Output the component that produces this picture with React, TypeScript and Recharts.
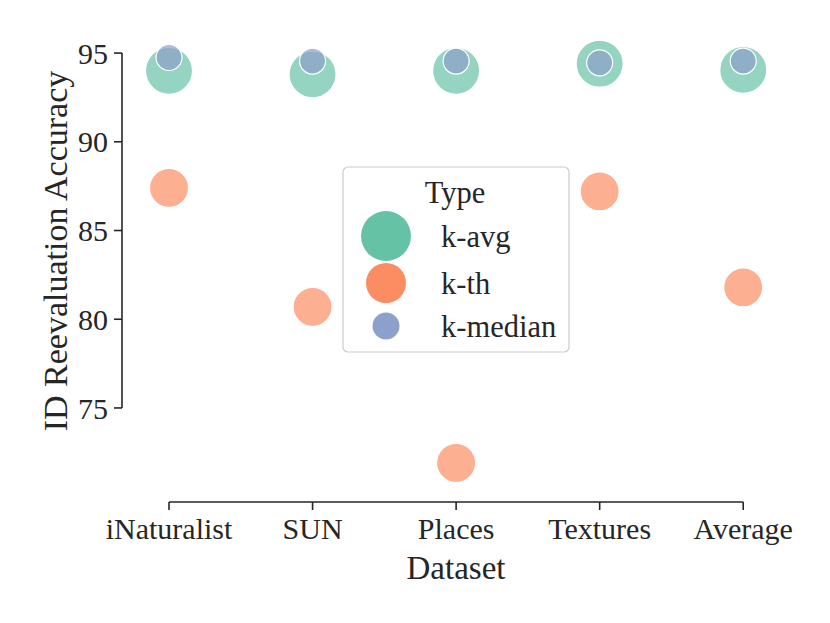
import {
  ScatterChart,
  Scatter,
  XAxis,
  YAxis,
  ReferenceLine,
} from "recharts";

const datasets = ["iNaturalist", "SUN", "Places", "Textures", "Average"];
const kAvg = [94.0, 93.8, 94.0, 94.4, 94.05];
const kTh = [87.4, 80.7, 71.9, 87.2, 81.8];
const kMedian = [94.75, 94.55, 94.55, 94.45, 94.55];
const yTicks = [75, 80, 85, 90, 95];

const types = [
  { name: "k-avg", color: "#66c2a5", r: 23.5, legendR: 25 },
  { name: "k-th", color: "#fc8d62", r: 19.5, legendR: 20 },
  { name: "k-median", color: "#8da0cb", r: 13, legendR: 13.5 },
];

const FONT = "'Liberation Serif', 'DejaVu Serif', serif";
const INK = "#262626";
const X_MIN = -0.3275;
const Y_MIN = 69.7;

const toPoints = (vals: number[]) => vals.map((v, i) => ({ x: i, y: v }));
const seriesValues = [kAvg, kTh, kMedian];

const dot = (r: number, color: string) => (p: any) => (
  <circle
    cx={p.cx}
    cy={p.cy}
    r={r}
    fill={color}
    fillOpacity={0.7}
    stroke="#ffffff"
    strokeWidth={1.2}
  />
);

function LegendBox() {
  const rows = [236, 283, 326];
  return (
    <svg
      width={230}
      height={190}
      style={{ position: "absolute", left: 341, top: 165 }}
    >
      <rect
        x={2}
        y={2}
        width={226}
        height={185}
        rx={5}
        fill="#ffffff"
        fillOpacity={0.8}
        stroke="#cccccc"
        strokeWidth={1.2}
      />
      <text x={114} y={38} textAnchor="middle" fontFamily={FONT} fontSize={30.5} fill={INK}>
        Type
      </text>
      {types.map((t, i) => (
        <g key={t.name}>
          <circle cx={45} cy={rows[i] - 165} r={t.legendR} fill={t.color} />
          <text
            x={100}
            y={rows[i] - 165}
            dy="0.35em"
            fontFamily={FONT}
            fontSize={30.5}
            fill={INK}
          >
            {t.name}
          </text>
        </g>
      ))}
    </svg>
  );
}

export default function App() {
  return (
    <div style={{ position: "absolute", left: 0, top: 0, width: 830, height: 623, background: "#fff" }}>
      <ScatterChart
        width={830}
        height={623}
        margin={{ top: 30, right: 15, bottom: 0, left: 0 }}
      >
        <XAxis
          type="number"
          dataKey="x"
          domain={[X_MIN, 4.5]}
          ticks={datasets.map((_, i) => i)}
          tickFormatter={(v: number) => datasets[v] ?? ""}
          axisLine={false}
          tickSize={8}
          tickMargin={8}
          tickLine={{ stroke: INK, strokeWidth: 1.6 }}
          tick={{ fill: INK, fontFamily: FONT, fontSize: 30 }}
          height={121}
          interval={0}
          allowDataOverflow
        />
        <YAxis
          type="number"
          dataKey="y"
          domain={[Y_MIN, 96.3]}
          ticks={yTicks}
          axisLine={false}
          tickSize={8}
          tickMargin={6}
          tickLine={{ stroke: INK, strokeWidth: 1.6 }}
          tick={{ fill: INK, fontFamily: FONT, fontSize: 30 }}
          width={122}
          allowDataOverflow
        />
        <ReferenceLine
          segment={[
            { x: X_MIN, y: yTicks[0] },
            { x: X_MIN, y: yTicks[yTicks.length - 1] },
          ]}
          stroke={INK}
          strokeWidth={1.6}
          ifOverflow="visible"
        />
        <ReferenceLine
          segment={[
            { x: 0, y: Y_MIN },
            { x: datasets.length - 1, y: Y_MIN },
          ]}
          stroke={INK}
          strokeWidth={1.6}
          ifOverflow="visible"
        />
        {types.map((t, i) => (
          <Scatter
            key={t.name}
            name={t.name}
            data={toPoints(seriesValues[i])}
            shape={dot(t.r, t.color)}
            isAnimationActive={false}
          />
        ))}
      </ScatterChart>
      <div
        style={{
          position: "absolute",
          left: 56,
          top: 251,
          transform: "translate(-50%, -50%) rotate(-90deg)",
          fontFamily: FONT,
          fontSize: 34,
          color: INK,
          whiteSpace: "nowrap",
        }}
      >
        ID Reevaluation Accuracy
      </div>
      <div
        style={{
          position: "absolute",
          left: 456,
          top: 568,
          transform: "translate(-50%, -50%)",
          fontFamily: FONT,
          fontSize: 33,
          color: INK,
          whiteSpace: "nowrap",
        }}
      >
        Dataset
      </div>
      <LegendBox />
    </div>
  );
}
